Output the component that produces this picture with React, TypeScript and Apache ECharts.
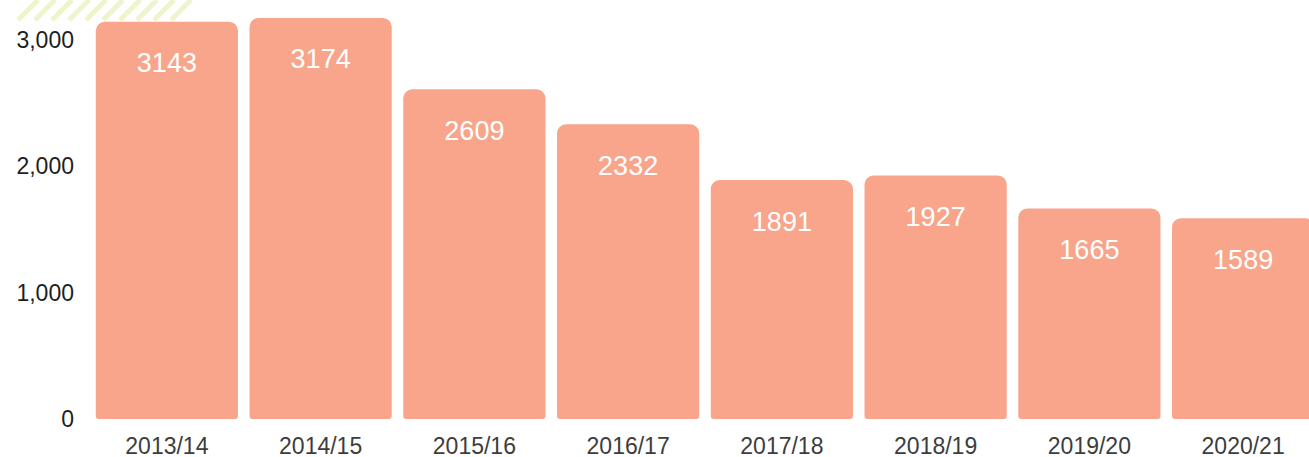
import React, { useEffect, useRef } from "react";
import * as echarts from "echarts";

const categories = ["2013/14", "2014/15", "2015/16", "2016/17", "2017/18", "2018/19", "2019/20", "2020/21"];
const values = [3143, 3174, 2609, 2332, 1891, 1927, 1665, 1589];

export default function App() {
  const ref = useRef<HTMLDivElement>(null);
  useEffect(() => {
    document.body.style.margin = "0";
    document.body.style.overflow = "hidden";
    const chart = echarts.init(ref.current!, null, { renderer: "svg" });
    const stripes: any[] = [];
    for (let i = 0; i < 10; i++) {
      const x0 = 18 + i * 17;
      stripes.push({
        type: "line",
        shape: { x1: x0, y1: 20, x2: x0 + 20, y2: 0 },
        style: { stroke: "#f0f4cc", lineWidth: 5 },
        z: -1,
      });
    }
    chart.setOption({
      animation: false,
      backgroundColor: "#ffffff",
      graphic: stripes,
      grid: { left: 90, right: 0, top: 2, bottom: 37, containLabel: false },
      xAxis: {
        type: "category",
        data: categories,
        axisLine: { show: false },
        axisTick: { show: false },
        axisLabel: {
          color: "#3d3d3d",
          fontSize: 23,
          fontFamily: "Liberation Sans",
          margin: 15,
        },
      },
      yAxis: {
        type: "value",
        min: 0,
        max: 3300,
        interval: 1000,
        splitLine: { show: false },
        axisLine: { show: false },
        axisTick: { show: false },
        axisLabel: {
          color: "#1e1e1e",
          fontSize: 23,
          fontFamily: "Liberation Sans",
          margin: 16,
          showMaxLabel: false,
          formatter: (v: number) => v.toLocaleString("en-US"),
        },
      },
      series: [
        {
          type: "bar",
          data: values,
          barCategoryGap: "7.5%",
          itemStyle: { color: "#f8a58b", borderRadius: [9, 9, 3, 3] },
          label: {
            show: true,
            position: "insideTop",
            distance: 28,
            color: "#ffffff",
            fontSize: 27,
            fontFamily: "Liberation Sans",
          },
        },
      ],
    });
    return () => chart.dispose();
  }, []);
  return <div ref={ref} style={{ width: 1320, height: 457 }} />;
}
